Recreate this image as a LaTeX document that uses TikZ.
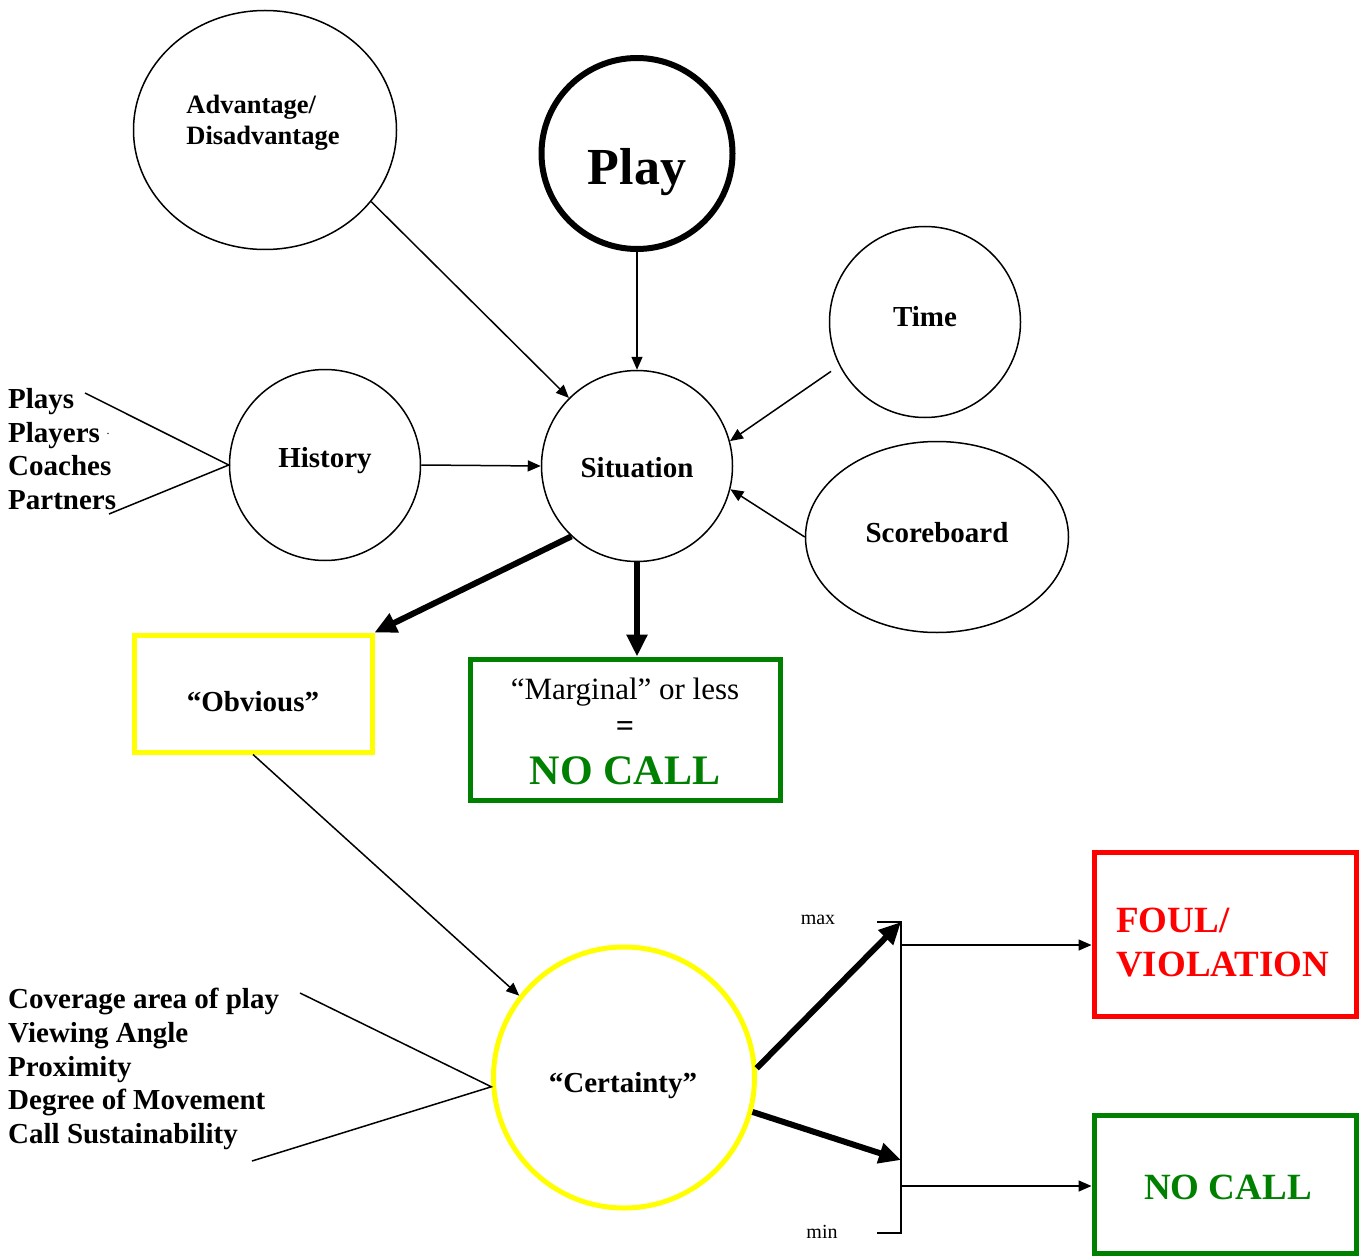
\documentclass[tikz,border=0pt]{standalone}
\usepackage{fontspec}
\setmainfont{Liberation Serif}
\usetikzlibrary{arrows.meta,shapes.geometric}
\definecolor{myyellow}{RGB}{255,255,0}
\definecolor{mygreen}{RGB}{0,128,0}
\definecolor{myred}{RGB}{255,0,0}
\tikzset{
  lbl/.style={font=\fontsize{29}{33.7}\selectfont\bfseries, inner sep=0pt},
  thinline/.style={line width=1.5pt},
  arr/.style={line width=1.5pt, -{Triangle[length=13pt,width=11pt]}},
  tarr/.style={line width=6pt, -{Triangle[length=22pt,width=20pt]}},
  circ/.style={circle, draw, line width=1.5pt, inner sep=0pt, minimum size=#1},
  ell/.style={ellipse, draw, line width=1.5pt, inner sep=0pt},
  boxed/.style={rectangle, draw, line width=5pt, inner sep=0pt},
}
\begin{document}
\begin{tikzpicture}[x=1pt,y=-1pt]
\useasboundingbox (0,0) rectangle (1365,1257);
% shapes
\node[ell, minimum width=263pt, minimum height=239pt] (adv) at (265,130) {};
\node[lbl, font=\fontsize{26.5}{31}\selectfont\bfseries, align=left] (advtxt) at (263,123) {Advantage/\\Disadvantage};
\node[circ=191pt, line width=6pt] (play) at (637,153.5) {};
\node[inner sep=0pt, font=\fontsize{52}{60}\selectfont\bfseries, anchor=base] (playtxt) at (637,185) {Play};
\node[circ=191pt] (time) at (925,322) {};
\node[lbl] (timetxt) at (925,317) {Time};
\node[circ=191pt] (sit) at (637,466) {};
\node[lbl] (sittxt) at (637,468) {Situation};
\node[circ=191pt] (hist) at (325,465) {};
\node[lbl] (histtxt) at (325,461) {History};
\node[ell, minimum width=263pt, minimum height=191pt] (score) at (937,537) {};
\node[lbl] (scoretxt) at (937,533) {Scoreboard};
\node[lbl, align=left, anchor=west] (histlist) at (8,449) {Plays\\Players\\Coaches\\Partners};
\node[inner sep=0pt, font=\fontsize{12}{12}\selectfont] (dot) at (108,434) {.};
\coordinate (pl1) at (85,393);
\coordinate (pl2) at (109,514);

\node[boxed, draw=myyellow, minimum width=238pt, minimum height=117pt] (obv) at (253,693.5) {};
\node[lbl] (obvtxt) at (253,702) {“Obvious”};
\node[boxed, draw=mygreen, minimum width=310pt, minimum height=141pt] (marg) at (625,729.5) {};
\node[inner sep=0pt, font=\fontsize{31}{36}\selectfont] (margtxt) at (625,692) {“Marginal” or less};
\node[inner sep=0pt, font=\fontsize{32}{36}\selectfont\bfseries] (eqtxt) at (625,729) {=};
\node[inner sep=0pt, font=\fontsize{42}{48}\selectfont\bfseries, text=mygreen] (nc1) at (625,771) {NO CALL};

\node[circ=261pt, draw=myyellow, line width=5pt] (cert) at (624,1077.5) {};
\node[lbl] (certtxt) at (623,1086) {“Certainty”};
\node[lbl, align=left, anchor=west] (certlist) at (8,1069) {Coverage area of play\\Viewing Angle\\Proximity\\Degree of Movement\\Call Sustainability};
\coordinate (cl1) at (300,993);
\coordinate (cl2) at (252,1161);

\node[boxed, draw=myred, minimum width=262pt, minimum height=164pt] (foul) at (1225,934) {};
\node[inner sep=0pt, font=\fontsize{37}{44}\selectfont\bfseries, text=myred, align=left, anchor=west] (foultxt) at (1116,943) {FOUL/\\VIOLATION};
\node[boxed, draw=mygreen, minimum width=262pt, minimum height=138pt] (nc) at (1225,1184) {};
\node[inner sep=0pt, font=\fontsize{37}{44}\selectfont\bfseries, text=mygreen] (nctxt) at (1228,1187) {NO CALL};

% bracket
\coordinate (btop) at (901,922);
\coordinate (bbot) at (901,1233);
\coordinate (btl) at (877,922);
\coordinate (bbl) at (877,1233);
\coordinate (bmid) at (901,1160);
\coordinate (bf) at (901,945);
\coordinate (bn) at (901,1186);
\draw[thinline] (btl) -- (btop) -- (bbot) -- (bbl);
\node[inner sep=0pt, font=\fontsize{20}{24}\selectfont] (maxtxt) at (818,920) {max};
\node[inner sep=0pt, font=\fontsize{20}{24}\selectfont] (mintxt) at (822,1232) {min};

% connectors
\draw[arr] (adv.-34) -- (sit.135);
\draw[arr] (play.south) -- (sit.north);
\draw[arr, shorten <=10pt] (time.207) -- (sit.15);
\draw[arr] (score.west) -- (sit.-14);
\draw[arr] (hist.east) -- (sit.west);
\draw[thinline] (pl1) -- (hist.west) -- (pl2);
\draw[tarr] (sit.-133) -- (obv.north east);
\draw[tarr] (sit.south) -- (sit.south |- marg.north);
\draw[arr] (obv.south) -- (cert.142);
\draw[thinline] (cl1) -- (cert.184) -- (cl2);
\draw[tarr] (cert.4) -- (btop);
\draw[tarr] (cert.-15) -- (bmid);
\draw[arr] (bf) -- (bf -| foul.west);
\draw[arr] (bn) -- (bn -| nc.west);
\end{tikzpicture}
\end{document}
